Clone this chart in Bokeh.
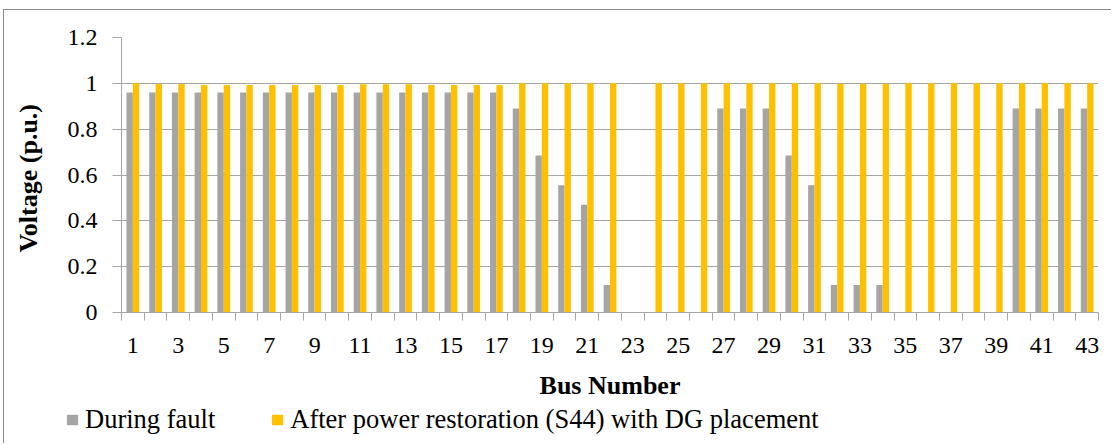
from bokeh.plotting import figure
from bokeh.models import (ColumnDataSource, FixedTicker, Legend, LegendItem, Range1d,
                          CustomJSTickFormatter)
from bokeh.embed import file_html
from bokeh.resources import INLINE
from bokeh.transform import dodge

bus = list(range(1, 44))
during_fault = [0.96] * 17 + [0.89, 0.685, 0.555, 0.47, 0.12, 0, 0, 0, 0,
                              0.89, 0.89, 0.89, 0.685, 0.555, 0.12, 0.12, 0.12,
                              0, 0, 0, 0, 0, 0.89, 0.89, 0.89, 0.89]
after_restoration = ([1.0, 0.997, 0.997] + [0.993] * 7 + [0.996] * 3 + [0.993] * 4
                     + [1.0] * 5 + [0] + [1.0] * 8 + [0.998] * 3 + [1.0] * 9)
y_ticks = [0, 0.2, 0.4, 0.6, 0.8, 1.0, 1.2]
x_ticks = [b for b in bus if b % 2 == 1]
series_names = ["During fault", "After power restoration (S44) with DG placement"]
series_cols = ["during", "after"]
series_colors = ["#a5a5a5", "#ffc000"]

src = ColumnDataSource(dict(bus=bus, during=during_fault, after=after_restoration))

FONT = "Liberation Serif"
GRID = "#a6a6a6"

p = figure(width=1108, height=392, output_backend="svg", toolbar_location=None,
           x_range=Range1d(0.5, 43.5), y_range=Range1d(0, 1.2),
           min_border_left=117, min_border_right=14, min_border_top=27, min_border_bottom=88)
p.styles = {"margin-left": "3px", "margin-top": "9px",
            "border-left": "1px solid #8c8c8c", "border-top": "1px solid #8c8c8c"}
p.outline_line_color = None
p.background_fill_color = "white"
p.border_fill_color = "white"

p.vbar(x=dodge("bus", -0.14, range=p.x_range), top="during", width=0.28, source=src,
       fill_color=series_colors[0], line_color=None)
p.vbar(x=dodge("bus", 0.14, range=p.x_range), top="after", width=0.28, source=src,
       fill_color=series_colors[1], line_color=None)

# x axis
p.xaxis.ticker = FixedTicker(ticks=x_ticks, minor_ticks=[b - 0.5 for b in bus] + [43.5])
p.xaxis.major_tick_line_color = None
p.xaxis.major_tick_out = 0
p.xaxis.major_tick_in = 0
p.xaxis.minor_tick_line_color = GRID
p.xaxis.minor_tick_out = 8
p.xaxis.minor_tick_in = 0
p.xaxis.axis_line_color = GRID
p.xaxis.major_label_text_font = FONT
p.xaxis.major_label_text_font_size = "24px"
p.xaxis.major_label_text_color = "black"
p.xaxis.major_label_standoff = 17
p.xaxis.axis_label = "Bus Number"
p.xaxis.axis_label_text_font = FONT
p.xaxis.axis_label_text_font_size = "26px"
p.xaxis.axis_label_text_font_style = "bold"
p.xaxis.axis_label_text_color = "black"
p.xaxis.axis_label_standoff = 15

# y axis
p.yaxis.ticker = FixedTicker(ticks=y_ticks, minor_ticks=[])
p.yaxis.formatter = CustomJSTickFormatter(code="return String(Math.round(tick * 10) / 10);")
p.yaxis.major_tick_line_color = GRID
p.yaxis.major_tick_out = 9
p.yaxis.major_tick_in = 0
p.yaxis.minor_tick_line_color = None
p.yaxis.axis_line_color = GRID
p.yaxis.major_label_text_font = FONT
p.yaxis.major_label_text_font_size = "24px"
p.yaxis.major_label_text_color = "black"
p.yaxis.major_label_standoff = 15
p.yaxis.axis_label = "Voltage  (p.u.)"
p.yaxis.axis_label_text_font = FONT
p.yaxis.axis_label_text_font_size = "26px"
p.yaxis.axis_label_text_font_style = "bold"
p.yaxis.axis_label_text_color = "black"
p.yaxis.axis_label_standoff = 22

p.xgrid.grid_line_color = None
p.ygrid.grid_line_color = GRID
p.ygrid.grid_line_width = 1

# legend strip: series renderers kept invisible here, used only for the swatches
lg = figure(width=1108, height=42, output_backend="svg", toolbar_location=None,
            x_axis_type=None, y_axis_type=None, x_range=Range1d(0, 1), y_range=Range1d(0, 1),
            min_border=0)
lg.styles = {"margin-left": "3px", "border-left": "1px solid #8c8c8c"}
lg.outline_line_color = None
lg.grid.visible = False
lg.background_fill_color = "white"
lg.border_fill_color = "white"
items = []
for name, col, color in zip(series_names, series_cols, series_colors):
    rr = lg.vbar(x="bus", top=col, width=0.28, source=src, fill_color=color,
                 line_color=None, visible=False)
    items.append(LegendItem(label=name, renderers=[rr]))

legend = Legend(items=items, orientation="horizontal", location=(61, 8),
                glyph_width=14, glyph_height=13, label_standoff=6, spacing=55,
                padding=0, margin=0, border_line_color=None, background_fill_alpha=0,
                inactive_fill_alpha=0,
                label_text_font=FONT, label_text_font_size="26.5px", label_text_color="black")
lg.add_layout(legend, "center")

open("out.html", "w").write(file_html([p, lg], INLINE))
